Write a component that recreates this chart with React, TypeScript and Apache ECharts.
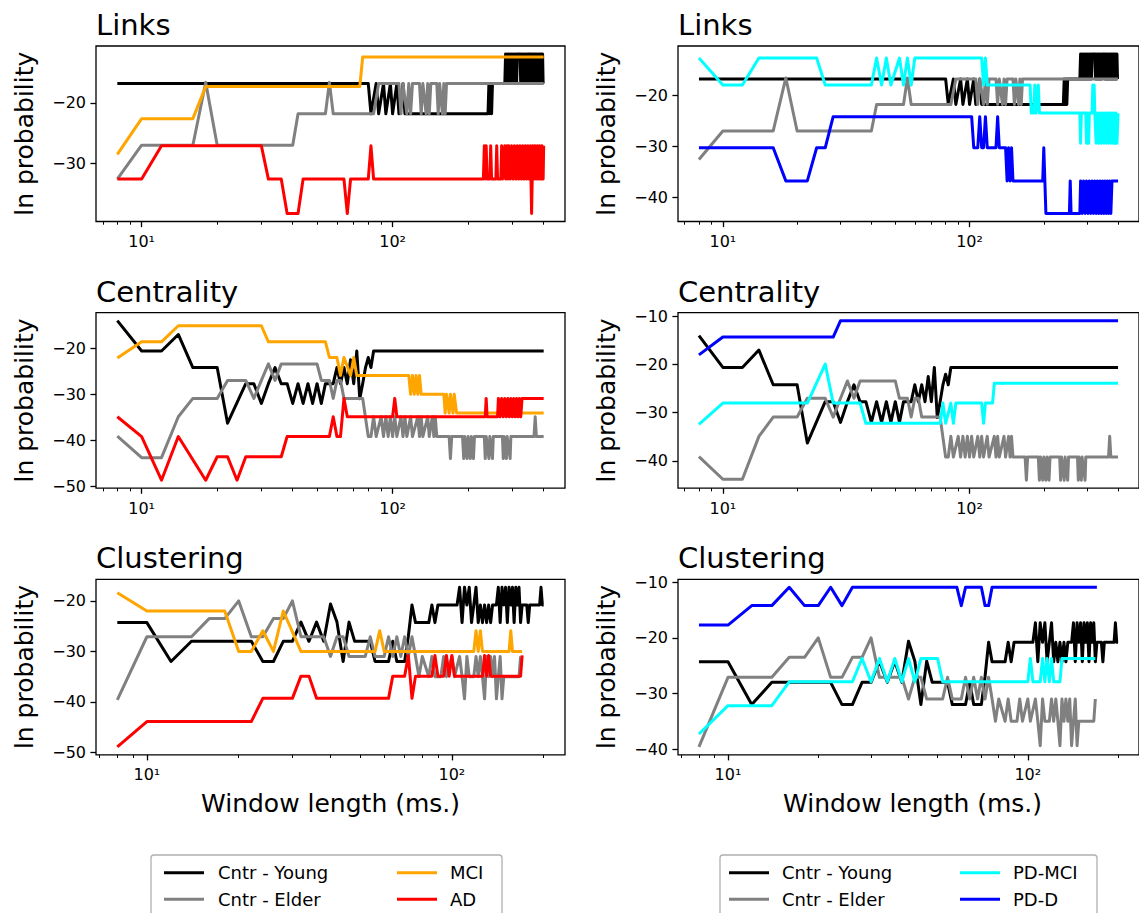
import React, { useEffect, useRef } from "react";
import * as echarts from "echarts";

type Pt = [number, number];

// ---------------- Links ----------------
const linksYoung: Pt[] = [
  [8, -16.8], [80, -16.8], [82, -21.8], [86, -16.8], [88, -21.8], [92, -16.8], [94, -21.8], [98, -16.8], [100, -21.8],
  [104, -16.8], [106, -21.8], [110, -16.8], [112, -21.8], [240, -21.8], [242, -16.8], [244, -21.8], [246, -16.8],
  [248, -21.8], [250, -16.8], [280, -16.8], [282, -11.9], [284, -16.8], [286, -11.9], [288, -16.8], [290, -11.9],
  [292, -16.8], [294, -11.9], [296, -16.8], [298, -11.9], [300, -16.8], [302, -11.9], [304, -16.8], [306, -11.9],
  [308, -16.8], [310, -11.9], [312, -16.8], [314, -11.9], [322, -11.9], [324, -16.8], [326, -11.9], [328, -16.8],
  [330, -11.9], [332, -16.8], [334, -11.9], [336, -16.8], [338, -11.9], [340, -16.8], [342, -11.9], [344, -16.8],
  [346, -11.9], [352, -11.9], [354, -16.8], [356, -11.9], [358, -16.8], [360, -11.9], [362, -16.8], [364, -11.9],
  [366, -16.8], [368, -11.9], [370, -16.8], [372, -11.9], [374, -16.8], [376, -11.9], [378, -16.8], [380, -11.9],
  [382, -16.8], [384, -11.9], [386, -16.8], [388, -11.9], [390, -16.8], [392, -11.9], [394, -16.8], [396, -11.9],
  [398, -16.8], [400, -16.8],
];
const linksElder: Pt[] = [
  [8, -32.6], [10, -27.0], [16, -27.0], [18, -16.6], [20, -27.0], [40, -27.0], [42, -21.8], [54, -21.8], [56, -16.6],
  [58, -21.8], [84, -21.8], [88, -16.8], [106, -16.8], [108, -21.8], [110, -16.8], [114, -21.8], [116, -16.8],
  [118, -21.8], [120, -16.8], [128, -16.8], [130, -21.8], [132, -16.8], [136, -21.8], [138, -16.8], [140, -21.8],
  [142, -16.8], [150, -16.8], [152, -21.8], [154, -16.8], [158, -21.8], [160, -16.8], [162, -21.8], [164, -16.8],
  [400, -16.8],
];
const linksMCI: Pt[] = [[8, -28.5], [10, -22.6], [16, -22.6], [18, -17.3], [74, -17.3], [76, -12.4], [400, -12.4]];
const linksAD: Pt[] = [
  [8, -32.6], [10, -32.6], [12, -27.1], [30, -27.1], [32, -32.6], [36, -32.6], [38, -38.3], [42, -38.3], [44, -32.6],
  [64, -32.6], [66, -38.3], [68, -32.6], [80, -32.6], [82, -27.1], [84, -32.6], [230, -32.6], [232, -27.1],
  [234, -32.6], [236, -27.1], [238, -32.6], [244, -32.6], [246, -27.1], [248, -32.6], [258, -32.6], [260, -27.1],
  [262, -32.6], [270, -32.6], [272, -27.1], [274, -32.6], [280, -27.1], [282, -32.6], [286, -27.1], [288, -32.6],
  [290, -27.1], [294, -32.6], [298, -27.1], [302, -32.6], [306, -27.1], [310, -32.6], [314, -27.1], [318, -32.6],
  [322, -27.1], [326, -32.6], [330, -27.1], [334, -32.6], [338, -27.1], [342, -32.6], [346, -27.1], [350, -32.6],
  [354, -27.1], [356, -32.6], [358, -38.3], [360, -32.6], [362, -27.1], [366, -32.6], [370, -27.1], [374, -32.6],
  [378, -27.1], [382, -32.6], [386, -27.1], [390, -32.6], [394, -27.1], [398, -32.6], [400, -27.1],
];
const linksPDMCI: Pt[] = [
  [8, -12.7], [10, -18.0], [12, -18.0], [14, -12.7], [24, -12.7], [26, -18.0], [40, -18.0], [42, -12.7], [44, -18.0],
  [46, -12.7], [48, -18.0], [52, -12.7], [54, -18.0], [56, -12.7], [58, -18.0], [60, -12.7], [112, -12.7],
  [114, -18.0], [116, -12.7], [118, -18.0], [176, -18.0], [178, -23.5], [182, -23.5], [184, -18.0], [186, -23.5],
  [190, -18.0], [192, -23.5], [280, -23.5], [282, -29.4], [284, -23.5], [296, -23.5], [298, -29.4], [300, -23.5],
  [304, -29.4], [306, -23.5], [314, -23.5], [316, -18.0], [318, -23.5], [320, -18.0], [322, -23.5], [326, -29.4],
  [328, -23.5], [334, -29.4], [336, -23.5], [342, -29.4], [344, -23.5], [350, -29.4], [352, -23.5], [358, -29.4],
  [360, -23.5], [366, -29.4], [368, -23.5], [374, -29.4], [376, -23.5], [382, -29.4], [384, -23.5], [390, -29.4],
  [392, -23.5], [396, -29.4], [400, -23.5],
];
const linksPDD: Pt[] = [
  [8, -30.3], [16, -30.3], [18, -36.8], [22, -36.8], [24, -30.3], [26, -30.3], [28, -24.2], [102, -24.2],
  [104, -30.3], [108, -30.3], [110, -24.2], [112, -30.3], [114, -30.3], [116, -24.2], [118, -30.3], [128, -30.3],
  [130, -24.2], [132, -30.3], [140, -30.3], [142, -36.8], [144, -30.3], [146, -36.8], [148, -30.3], [150, -36.8],
  [198, -36.8], [200, -30.3], [204, -43.2], [254, -43.2], [256, -36.8], [258, -43.2], [280, -43.2], [282, -36.8],
  [286, -43.2], [290, -36.8], [294, -43.2], [298, -36.8], [302, -43.2], [306, -36.8], [310, -43.2], [314, -36.8],
  [318, -43.2], [322, -36.8], [326, -43.2], [330, -36.8], [334, -43.2], [338, -36.8], [342, -43.2], [346, -36.8],
  [350, -43.2], [354, -36.8], [358, -43.2], [362, -36.8], [366, -43.2], [370, -36.8], [374, -43.2], [378, -36.8],
  [400, -36.8],
];

// ---------------- Centrality ----------------
const centYoung: Pt[] = [
  [8, -14.0], [10, -20.6], [12, -20.6], [14, -17.0], [16, -24.2], [20, -24.2], [22, -36.3], [26, -27.7], [28, -27.7],
  [30, -32.0], [32, -27.7], [34, -24.2], [36, -27.7], [38, -27.7], [40, -32.0], [42, -27.7], [44, -32.0], [46, -27.7],
  [48, -32.0], [50, -27.7], [52, -32.0], [54, -27.7], [58, -27.7], [60, -24.2], [62, -27.7], [64, -24.2], [66, -27.7],
  [68, -22.5], [70, -27.7], [72, -20.6], [74, -31.0], [76, -27.7], [78, -24.2], [80, -22.0], [82, -24.2], [84, -20.6],
  [400, -20.6],
];
const centElder: Pt[] = [
  [8, -39.1], [10, -43.8], [12, -43.8], [14, -34.9], [16, -30.9], [20, -30.9], [22, -27.0], [26, -27.0], [28, -30.9],
  [30, -27.0], [32, -23.4], [34, -27.0], [36, -23.4], [50, -23.4], [52, -27.0], [56, -27.0], [58, -30.9], [60, -27.0],
  [62, -27.0], [64, -30.9], [76, -30.9], [80, -39.2], [82, -39.2], [84, -34.9], [86, -39.2], [90, -34.9], [92, -39.2],
  [94, -34.9], [96, -39.2], [98, -34.9], [100, -39.2], [102, -34.9], [104, -39.2], [108, -34.9], [110, -39.2],
  [112, -34.9], [114, -39.2], [118, -34.9], [120, -39.2], [126, -34.9], [128, -39.2], [130, -34.9], [132, -39.2],
  [138, -34.9], [140, -39.2], [144, -34.9], [146, -39.2], [148, -34.9], [150, -39.2], [168, -39.2], [170, -44.0],
  [172, -39.2], [190, -39.2], [192, -44.0], [194, -39.2], [198, -44.0], [200, -39.2], [204, -44.0], [206, -39.2],
  [210, -44.0], [212, -39.2], [232, -39.2], [234, -44.0], [236, -39.2], [242, -44.0], [244, -39.2], [250, -44.0],
  [252, -39.2], [274, -39.2], [276, -44.0], [278, -39.2], [284, -44.0], [286, -39.2], [294, -44.0], [296, -39.2],
  [366, -39.2], [370, -34.9], [374, -39.2], [400, -39.2],
];
const centMCI: Pt[] = [
  [8, -22.1], [10, -18.6], [12, -18.6], [14, -15.1], [30, -15.1], [32, -18.6], [54, -18.6], [56, -22.0], [60, -22.0],
  [62, -25.9], [64, -22.0], [68, -25.9], [70, -22.0], [72, -25.9], [116, -25.9], [118, -30.0], [120, -25.9],
  [122, -30.0], [124, -25.9], [126, -30.0], [128, -25.9], [130, -30.0], [160, -30.0], [162, -34.1], [164, -30.0],
  [168, -34.1], [170, -30.0], [174, -34.1], [176, -30.0], [180, -34.1], [400, -34.1],
];
const centAD: Pt[] = [
  [8, -34.9], [10, -39.2], [12, -48.7], [14, -39.2], [18, -48.7], [20, -43.6], [22, -43.6], [24, -48.7], [26, -43.6],
  [36, -43.6], [38, -39.2], [56, -39.2], [58, -34.9], [60, -39.2], [62, -39.2], [64, -30.9], [66, -34.9], [100, -34.9],
  [102, -30.9], [104, -34.9], [234, -34.9], [236, -30.9], [238, -34.9], [262, -34.9], [264, -30.9], [268, -34.9],
  [272, -30.9], [276, -34.9], [280, -30.9], [284, -34.9], [288, -30.9], [292, -34.9], [296, -30.9], [300, -34.9],
  [304, -30.9], [308, -34.9], [312, -30.9], [316, -34.9], [320, -30.9], [324, -34.9], [328, -30.9], [400, -30.9],
];
const centPDMCI: Pt[] = [
  [8, -32.4], [10, -28.0], [22, -28.0], [26, -19.9], [28, -28.0], [36, -28.0], [38, -32.2], [76, -32.2], [78, -28.0],
  [80, -32.2], [84, -28.0], [86, -32.2], [88, -28.0], [112, -28.0], [114, -32.2], [116, -28.0], [124, -28.0],
  [126, -23.9], [400, -23.9],
];
const centPDD: Pt[] = [[8, -18.0], [10, -14.3], [28, -14.3], [30, -10.9], [400, -10.9]];

// ---------------- Clustering ----------------
const clusYoung: Pt[] = [
  [8, -24.3], [10, -24.3], [12, -32.0], [14, -28.0], [22, -28.0], [24, -32.0], [26, -32.0], [28, -28.0], [30, -28.0],
  [32, -24.2], [34, -28.0], [36, -24.2], [38, -28.0], [40, -20.6], [42, -24.2], [44, -32.0], [46, -24.2], [48, -28.0],
  [54, -28.0], [56, -32.0], [62, -32.0], [64, -28.0], [66, -32.0], [70, -32.0], [72, -27.0], [74, -20.8], [76, -24.3],
  [84, -24.3], [86, -20.8], [88, -24.3], [90, -20.8], [104, -20.8], [106, -17.3], [108, -24.3], [110, -17.3],
  [112, -20.8], [114, -17.3], [116, -24.3], [118, -20.8], [120, -17.3], [122, -24.3], [124, -20.8], [126, -24.3],
  [128, -20.8], [130, -24.3], [132, -20.8], [134, -24.3], [136, -20.8], [140, -20.8], [142, -17.3], [144, -24.3],
  [146, -17.3], [148, -20.8], [150, -17.3], [152, -24.3], [154, -17.3], [156, -20.8], [158, -17.3], [160, -24.3],
  [162, -17.3], [164, -20.8], [166, -17.3], [168, -24.3], [170, -20.8], [176, -20.8], [178, -24.3], [180, -20.8],
  [194, -20.8], [196, -17.3], [198, -20.8], [200, -20.8],
];
const clusElder: Pt[] = [
  [8, -39.6], [10, -27.1], [14, -27.1], [16, -23.5], [18, -23.5], [20, -20.0], [22, -27.1], [24, -27.1], [26, -23.5],
  [28, -23.5], [30, -20.0], [32, -27.1], [38, -27.1], [40, -31.0], [42, -27.1], [44, -27.1], [46, -31.0], [52, -31.0],
  [54, -27.1], [56, -31.0], [60, -31.0], [62, -27.1], [64, -31.0], [66, -27.1], [68, -31.0], [70, -27.1], [72, -31.0],
  [74, -27.1], [76, -31.0], [78, -35.0], [80, -31.0], [84, -35.0], [86, -31.0], [88, -35.0], [92, -35.0], [94, -31.0],
  [96, -35.0], [100, -31.0], [102, -35.0], [106, -31.0], [108, -35.0], [110, -39.4], [112, -31.0], [114, -35.0],
  [118, -35.0], [120, -31.0], [122, -35.0], [124, -31.0], [126, -35.0], [128, -39.4], [130, -31.0], [132, -35.0],
  [134, -31.0], [136, -35.0], [138, -31.0], [140, -39.4], [142, -35.0], [144, -31.0], [146, -39.4], [148, -35.0],
  [166, -35.0], [168, -31.0],
];
const clusMCI: Pt[] = [
  [8, -18.4], [10, -22.0], [18, -22.0], [20, -30.0], [22, -30.0], [24, -25.9], [26, -30.0], [28, -22.0], [32, -30.0],
  [56, -30.0], [58, -25.9], [60, -30.0], [118, -30.0], [120, -25.9], [122, -30.0], [124, -25.9], [126, -30.0],
  [154, -30.0], [156, -25.9], [158, -30.0], [170, -30.0],
];
const clusAD: Pt[] = [
  [8, -48.9], [10, -43.9], [22, -43.9], [24, -39.3], [30, -39.3], [32, -34.9], [34, -34.9], [36, -39.3], [62, -39.3],
  [64, -34.9], [70, -34.9], [72, -30.8], [74, -39.3], [76, -34.9], [86, -34.9], [88, -30.8], [90, -34.9], [94, -34.9],
  [96, -30.8], [98, -34.9], [100, -30.8], [102, -34.9], [126, -34.9], [128, -30.8], [130, -34.9], [132, -30.8],
  [134, -34.9], [168, -34.9], [170, -30.8],
];
const clusPDMCI: Pt[] = [
  [8, -37.3], [10, -32.2], [14, -32.2], [16, -27.9], [26, -27.9], [28, -23.7], [30, -27.9], [32, -23.7], [34, -27.9],
  [36, -23.7], [38, -27.9], [40, -23.7], [42, -27.9], [44, -23.7], [50, -23.7], [52, -27.9], [100, -27.9],
  [102, -23.7], [104, -27.9], [110, -27.9], [112, -23.7], [114, -27.9], [116, -23.7], [118, -27.9], [120, -23.7],
  [122, -27.9], [128, -27.9], [130, -23.7], [168, -23.7],
];
const clusPDD: Pt[] = [
  [8, -17.7], [10, -17.7], [12, -14.2], [14, -14.2], [16, -10.9], [18, -14.2], [20, -14.2], [22, -10.9], [24, -14.2],
  [26, -10.9], [58, -10.9], [60, -14.2], [62, -10.9], [70, -10.9], [72, -14.2], [74, -14.2], [76, -10.9], [170, -10.9],
];

// ---------------- labels / colours ----------------
const panelTitles = ["Links", "Centrality", "Clustering"];
const groupNames = ["Cntr - Young", "Cntr - Elder", "MCI", "AD", "PD-MCI", "PD-D"];
const groupColors = ["#000000", "#808080", "#ffa500", "#ff0000", "#00ffff", "#0000ff"];
const yLabel = "ln probability";
const xLabel = "Window length (ms.)";

const rowData: Pt[][][] = [
  [linksYoung, linksElder, linksMCI, linksAD, linksPDMCI, linksPDD],
  [centYoung, centElder, centMCI, centAD, centPDMCI, centPDD],
  [clusYoung, clusElder, clusMCI, clusAD, clusPDMCI, clusPDD],
];

const FONT = "DejaVu Sans";
const COLS = [96, 678];
const GW = 469;
const ROWS = [46, 312.7, 579.3];
const GH = 175.5;

function supLabel(v: number) {
  const e = Math.round(Math.log10(v));
  const sups: Record<number, string> = { 0: "\u2070", 1: "\u00b9", 2: "\u00b2", 3: "\u00b3" };
  return "10" + (sups[e] ?? "");
}

function buildOption() {
  const grid: any[] = [];
  const xAxis: any[] = [];
  const yAxis: any[] = [];
  const series: any[] = [];
  const graphic: any[] = [];
  let gi = 0;
  for (let r = 0; r < 3; r++) {
    for (let c = 0; c < 2; c++) {
      const idxs = c === 0 ? [0, 1, 2, 3] : [0, 1, 4, 5];
      const left = COLS[c];
      const top = ROWS[r];
      grid.push({
        left, top, width: GW, height: GH, show: true,
        borderColor: "#000", borderWidth: 1.3, backgroundColor: "transparent",
      });
      const pts = idxs.flatMap((k) => rowData[r][k]);
      const xs = pts.map((p) => p[0]);
      const ys = pts.map((p) => p[1]);
      const lx0 = Math.log10(Math.min(...xs));
      const lx1 = Math.log10(Math.max(...xs));
      const xmin = Math.pow(10, lx0 - 0.05 * (lx1 - lx0));
      const xmax = Math.pow(10, lx1 + 0.05 * (lx1 - lx0));
      const y0 = Math.min(...ys);
      const y1 = Math.max(...ys);
      const ymin = y0 - 0.05 * (y1 - y0);
      const ymax = y1 + 0.05 * (y1 - y0);
      const majors = [1, 10, 100, 1000].filter((v) => v >= xmin && v <= xmax);
      const minors: number[] = [];
      [1, 10, 100].forEach((d) => {
        for (let k = 2; k <= 9; k++) {
          const v = k * d;
          if (v >= xmin && v <= xmax) minors.push(v);
        }
      });
      const yt: number[] = [];
      for (let t = Math.ceil(ymin / 10) * 10; t <= ymax; t += 10) yt.push(t);

      xAxis.push({
        type: "log", logBase: 10, gridIndex: gi, min: xmin, max: xmax, position: "bottom",
        axisLine: { show: false }, splitLine: { show: false }, minorTick: { show: false },
        axisTick: { show: true, customValues: majors, length: 5.6, lineStyle: { color: "#000", width: 1.3 } },
        axisLabel: {
          show: true, customValues: majors, formatter: (v: number) => supLabel(v),
          fontFamily: FONT, fontSize: 16, color: "#000", margin: 12,
        },
      });
      xAxis.push({
        type: "log", logBase: 10, gridIndex: gi, min: xmin, max: xmax, position: "bottom",
        axisLine: { show: false }, splitLine: { show: false }, minorTick: { show: false },
        axisTick: { show: true, customValues: minors, length: 3.2, lineStyle: { color: "#000", width: 1 } },
        axisLabel: { show: false },
      });
      yAxis.push({
        type: "value", gridIndex: gi, min: ymin, max: ymax,
        axisLine: { show: false }, splitLine: { show: false },
        axisTick: { show: true, customValues: yt, length: 5.6, lineStyle: { color: "#000", width: 1.3 } },
        axisLabel: {
          show: true, customValues: yt,
          formatter: (v: number) => (v < 0 ? "\u2212" : "") + Math.abs(Math.round(v)),
          fontFamily: FONT, fontSize: 16, color: "#000", margin: 10,
        },
      });
      idxs.forEach((k) => {
        series.push({
          type: "line", name: groupNames[k], xAxisIndex: 2 * gi, yAxisIndex: gi,
          data: rowData[r][k], symbol: "none", showSymbol: false, silent: true,
          lineStyle: { color: groupColors[k], width: 3, join: "round" },
          itemStyle: { color: groupColors[k] },
        });
      });

      // titles & axis labels
      graphic.push({
        type: "text", x: left, y: top - 21,
        style: { text: panelTitles[r], fontFamily: FONT, fontSize: 29, fill: "#000", align: "left", verticalAlign: "middle" },
      });
      graphic.push({
        type: "text", x: left - 72, y: top + GH / 2, rotation: Math.PI / 2,
        style: { text: yLabel, fontFamily: FONT, fontSize: 25, fill: "#000", align: "center", verticalAlign: "middle" },
      });
      if (r === 2) {
        graphic.push({
          type: "text", x: left + GW / 2, y: top + GH + 49,
          style: { text: xLabel, fontFamily: FONT, fontSize: 25, fill: "#000", align: "center", verticalAlign: "middle" },
        });
      }
      gi++;
    }
  }

  // legends
  const legends = [
    { box: [151, 855, 351], hx: [164, 397], tx: [218, 450], items: [[0, 1], [2, 3]] },
    { box: [720, 855, 377], hx: [729, 960], tx: [782, 1013], items: [[0, 1], [4, 5]] },
  ];
  const rowsY = [872.7, 899.3];
  legends.forEach((L) => {
    graphic.push({
      type: "rect", shape: { x: L.box[0], y: L.box[1], width: L.box[2], height: 90, r: 3 },
      style: { fill: "#fff", stroke: "#b0b0b0", lineWidth: 1.3 },
    });
    L.items.forEach((col, ci) => {
      col.forEach((k, ri) => {
        graphic.push({
          type: "line", shape: { x1: L.hx[ci], y1: rowsY[ri], x2: L.hx[ci] + 40, y2: rowsY[ri] },
          style: { stroke: groupColors[k], lineWidth: 3 },
        });
        graphic.push({
          type: "text", x: L.tx[ci], y: rowsY[ri],
          style: { text: groupNames[k], fontFamily: FONT, fontSize: 18, fill: "#000", align: "left", verticalAlign: "middle" },
        });
      });
    });
  });

  return {
    animation: false,
    backgroundColor: "#ffffff",
    grid, xAxis, yAxis, series, graphic,
  };
}

export default function App() {
  const ref = useRef<HTMLDivElement>(null);
  useEffect(() => {
    if (!ref.current) return;
    const chart = echarts.init(ref.current, undefined, { renderer: "svg" });
    chart.setOption(buildOption() as any);
    return () => chart.dispose();
  }, []);
  return (
    <div
      ref={ref}
      style={{ position: "fixed", left: 0, top: 0, width: 1139, height: 913, background: "#fff" }}
    />
  );
}
